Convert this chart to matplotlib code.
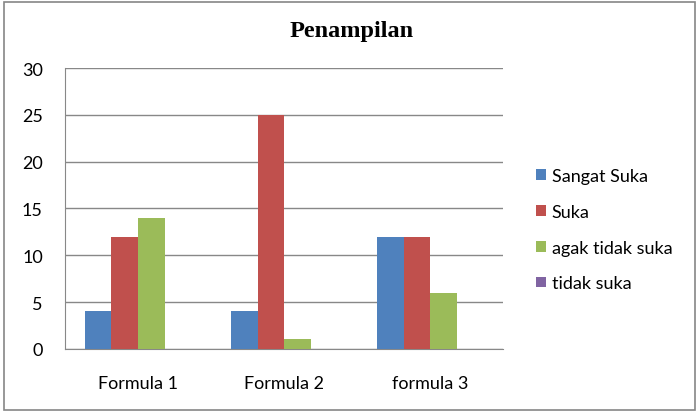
import numpy as np
import matplotlib.pyplot as plt

categories = ['Formula 1', 'Formula 2', 'formula 3']
series_names = ['Sangat Suka', 'Suka', 'agak tidak suka', 'tidak suka']
sangat_suka = [4, 4, 12]
suka = [12, 25, 12]
agak_tidak_suka = [14, 1, 6]
tidak_suka = [0, 0, 0]

colors = ['#4F81BD', '#C0504D', '#9BBB59', '#8064A2']

plt.rcParams['font.family'] = ['Lato', 'DejaVu Sans']

fig = plt.figure(figsize=(6.99, 4.14), dpi=100)
fig.patches.append(plt.Rectangle((0.006, 0.008), 0.988, 0.985, transform=fig.transFigure,
                                 fill=False, edgecolor='#868686', linewidth=1.2))

ax = fig.add_axes([0.093, 0.155, 0.627, 0.678])

values = [sangat_suka, suka, agak_tidak_suka, tidak_suka]
x = np.arange(len(categories))
width = 1 / 5.5
for i, (name, vals) in enumerate(zip(series_names, values)):
    ax.bar(x + (i - 1.5) * width, vals, width, color=colors[i], label=name, zorder=3)

ax.set_xlim(-0.5, 2.5)
ax.set_ylim(0, 30)
ax.set_yticks(range(0, 31, 5))
ax.set_xticks(x)
ax.set_xticklabels(categories)
ax.yaxis.grid(True, color='#888888', linewidth=1, zorder=0)
ax.tick_params(axis='both', length=0, labelsize=13, colors='black')
ax.tick_params(axis='x', pad=19)
ax.tick_params(axis='y', pad=16)
for s in ['top', 'right']:
    ax.spines[s].set_visible(False)
ax.spines['left'].set_color('#888888')
ax.spines['bottom'].set_color('#888888')

fig.text(0.503, 0.925, 'Penampilan', ha='center', va='center',
         family='Liberation Serif', fontweight='bold', fontsize=17.5)

fig.legend(loc='center left', bbox_to_anchor=(0.744, 0.443), frameon=False,
           fontsize=13, handlelength=0.55, handleheight=0.55, handletextpad=0.3,
           labelspacing=1.1)

fig.savefig('out.png', dpi=100)
